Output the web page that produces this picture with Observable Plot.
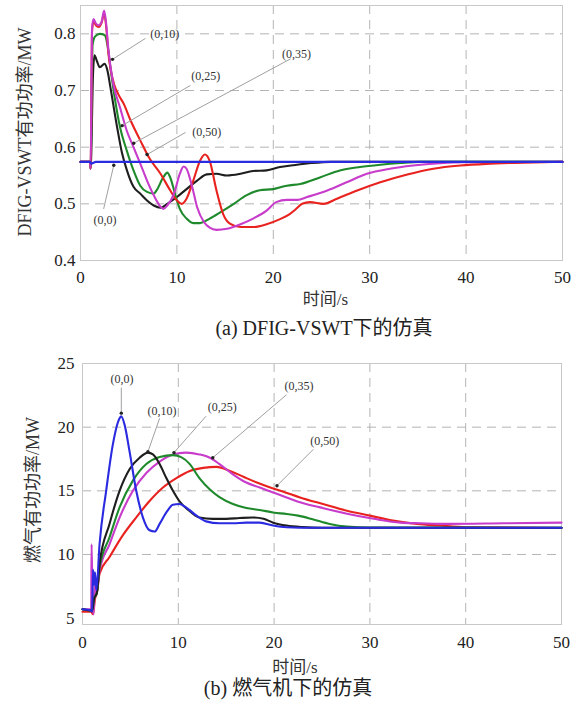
<!DOCTYPE html>
<html><head><meta charset="utf-8">
<script src="https://cdn.jsdelivr.net/npm/d3@7"></script>
<script src="https://cdn.jsdelivr.net/npm/@observablehq/plot@0.6"></script>
<style>
body{margin:0;background:#fff;}
#wrap{position:relative;width:578px;height:711px;overflow:hidden;background:#fff;font-family:"Liberation Serif","Times New Roman",Tinos,"DejaVu Serif","Noto Sans CJK SC",serif;}
.pane{position:absolute;left:0;}
.cap{position:absolute;font-size:20px;line-height:22px;white-space:nowrap;transform:translateX(-50%);color:#222;}
</style></head><body><div id="wrap">
<div class="pane" id="p1" style="top:0px"></div>
<div class="cap" style="left:324px;top:317px">(a) DFIG-VSWT下的仿真</div>
<div class="pane" id="p2" style="top:340px"></div>
<div class="cap" style="left:288px;top:677px">(b) 燃气机下的仿真</div>
</div>
<script>
// ---------- shared ----------
const xTicks = [0, 10, 20, 30, 40, 50];
const seriesNames = ["(0,0)", "(0,10)", "(0,25)", "(0,35)", "(0,50)"];
const seriesColors = ["#2a2ae0", "#1e1e1e", "#1f8a2c", "#c83ccb", "#e8231f"];

// ---------- panel (a): DFIG-VSWT active power, MW ----------
const yTicksA = [0.4, 0.5, 0.6, 0.7, 0.8];
const dfig_0_0 = [[0,0.574],[1.0,0.574],[1.1,0.571],[1.6,0.574],[3,0.574],[50,0.574]];
const dfig_0_10 = [[0,0.574],[1.0,0.574],[1.05,0.562],[1.3,0.73],[1.45,0.762],[1.7,0.752],[2.0,0.741],[2.5,0.747],[2.8,0.735],[3.1,0.706],[3.8,0.635],[4.3,0.59],[4.8,0.56],[5.5,0.53],[6.2,0.518],[6.9,0.506],[7.6,0.497],[8.3,0.493],[9.0,0.5],[10,0.512],[11,0.526],[12.1,0.541],[13.1,0.552],[14.1,0.553],[15.2,0.55],[16.6,0.553],[17.9,0.558],[19.3,0.559],[20.7,0.565],[22,0.568],[24,0.572],[26,0.574],[50,0.574]];
const dfig_0_25 = [[0,0.574],[1.0,0.574],[1.05,0.562],[1.25,0.78],[1.5,0.795],[2.0,0.8],[2.5,0.798],[2.8,0.78],[3.1,0.741],[3.6,0.682],[4.1,0.635],[4.8,0.594],[5.5,0.559],[6.2,0.532],[6.9,0.521],[7.6,0.518],[7.9,0.524],[8.6,0.547],[9.0,0.555],[9.3,0.547],[9.8,0.518],[10.3,0.491],[11,0.474],[11.7,0.466],[12.4,0.466],[13.4,0.474],[14.5,0.485],[15.9,0.5],[17.2,0.515],[18.6,0.524],[20,0.526],[21.4,0.532],[22.8,0.535],[24.9,0.547],[26.9,0.559],[29,0.565],[31.1,0.569],[33.2,0.572],[35.2,0.574],[50,0.574]];
const dfig_0_35 = [[0,0.574],[1.0,0.574],[1.05,0.562],[1.2,0.81],[1.35,0.826],[1.6,0.818],[1.9,0.815],[2.2,0.822],[2.45,0.841],[2.65,0.82],[2.9,0.771],[3.4,0.712],[4.1,0.67],[4.8,0.629],[5.5,0.6],[6.2,0.571],[6.9,0.541],[7.6,0.515],[8.3,0.495],[8.6,0.491],[9.0,0.497],[9.7,0.518],[10.3,0.553],[10.7,0.566],[11.0,0.562],[11.6,0.529],[12.1,0.494],[12.8,0.468],[13.4,0.458],[14.1,0.454],[15.2,0.456],[16.6,0.464],[17.9,0.474],[19.3,0.488],[20.3,0.503],[21.4,0.507],[22.5,0.507],[23.5,0.512],[25.6,0.5235],[27.6,0.538],[29.7,0.553],[32.1,0.562],[34.5,0.5676],[37.3,0.5717],[39.7,0.5735],[50,0.574]];
const dfig_0_50 = [[0,0.574],[1.0,0.574],[1.05,0.562],[1.2,0.805],[1.35,0.822],[1.6,0.815],[1.9,0.812],[2.2,0.82],[2.45,0.836],[2.65,0.815],[2.9,0.765],[3.1,0.74],[3.5,0.71],[3.9,0.694],[4.5,0.676],[5.2,0.647],[6.2,0.612],[7.2,0.579],[8.3,0.553],[9.3,0.524],[10,0.506],[10.5,0.5],[11,0.509],[11.7,0.541],[12.4,0.576],[12.9,0.587],[13.4,0.576],[14.1,0.524],[14.8,0.482],[15.5,0.465],[16.6,0.459],[17.9,0.459],[19.3,0.464],[20.7,0.473],[21.7,0.482],[22.3,0.49],[23,0.5],[23.8,0.503],[25.2,0.5],[26.6,0.509],[28.7,0.5235],[31.1,0.538],[33.9,0.5518],[36.6,0.562],[39.4,0.5676],[42.1,0.5706],[45,0.5723],[50,0.574]];
// annotation: label text pos, leader start, leader end
const annA_tx = [2.55, 8.75, 13.0, 22.4, 13.1];
const annA_ty = [0.471, 0.80, 0.726, 0.765, 0.626];
const annA_x1 = [2.4, 6.74, 11.4, 21.8, 10.9];
const annA_y1 = [0.491, 0.792, 0.709, 0.756, 0.626];
const annA_x2 = [3.45, 3.32, 4.32, 5.52, 6.9];
const annA_y2 = [0.568, 0.755, 0.638, 0.607, 0.587];

// ---------- panel (b): gas turbine active power, MW ----------
const yTicksB = [5, 10, 15, 20, 25];
const gas_0_0 = [[0,5.7],[0.9,5.6],[1.0,5.5],[1.1,8.8],[1.2,7.6],[1.3,8.6],[1.45,7.2],[1.78,10.8],[2.47,15],[3.17,18.65],[3.87,20.7],[4.04,20.86],[4.39,20.2],[4.91,18.1],[5.61,15],[6.31,12.9],[7.0,11.9],[7.53,11.8],[8.05,12.4],[8.75,13.3],[9.44,13.9],[10.1,13.96],[10.8,13.7],[11.9,13.05],[12.9,12.6],[14.3,12.45],[15.7,12.45],[17.1,12.5],[18.5,12.5],[19.9,12.27],[21.3,12.14],[24,12.1],[50,12.1]];
const gas_0_10 = [[0,5.7],[1.0,5.6],[1.2,6.5],[1.5,7.0],[1.78,9.27],[2.82,12.4],[3.87,15],[4.91,16.7],[5.96,17.6],[6.83,18.0],[7.35,17.86],[8.05,17.1],[8.75,16.0],[9.44,15],[10.1,14.2],[11.2,13.4],[12.2,12.9],[13.6,12.8],[15,12.8],[16.4,12.86],[17.8,12.9],[18.9,12.8],[19.9,12.5],[21.3,12.27],[23,12.15],[25,12.1],[50,12.1]];
const gas_0_25 = [[0,5.7],[1.0,5.6],[1.2,6.5],[1.5,7.0],[1.78,9.0],[2.82,11.35],[3.87,13.7],[5.26,15.8],[6.66,17.1],[8.05,17.65],[9.44,17.8],[10.3,17.65],[11.2,17.1],[12.2,16.0],[13.3,15.1],[14.3,14.5],[15.7,13.96],[17.1,13.65],[18.5,13.5],[19.9,13.3],[21.3,13.18],[22.5,13.05],[24.1,12.75],[25.8,12.4],[27.6,12.19],[30,12.12],[50,12.1]];
const gas_0_35 = [[0,5.7],[0.9,5.7],[0.95,10.8],[1.05,6.2],[1.15,5.3],[1.3,7.6],[1.5,7.0],[1.78,8.75],[2.82,10.8],[3.87,12.9],[5.26,15],[6.66,16.4],[8.05,17.3],[9.44,17.86],[10.8,18.0],[12.2,17.86],[13.3,17.6],[14.3,17.1],[15.7,16.3],[17.1,15.65],[18.5,15.26],[19.9,14.87],[21.3,14.48],[22.7,14.1],[24.8,13.7],[27.6,13.2],[30.4,12.8],[33.2,12.5],[35.3,12.45],[38.1,12.4],[44,12.45],[50,12.5]];
const gas_0_50 = [[0,5.5],[0.9,5.5],[1.1,5.3],[1.3,6.5],[1.5,7.0],[1.78,8.5],[2.82,9.8],[4.2,11.5],[5.6,12.9],[7.0,14.2],[8.4,15.26],[9.8,16.0],[11.2,16.56],[12.6,16.8],[14,16.88],[15.4,16.56],[16.8,16.1],[18.2,15.65],[19.6,15.26],[20.9,14.95],[22.7,14.48],[25.1,13.96],[27.6,13.44],[30,13.05],[32.4,12.66],[34.9,12.4],[37.3,12.27],[40,12.14],[50,12.08]];
const annB_tx = [4.13, 8.3, 14.6, 22.6, 25.3];
const annB_ty = [23.75, 21.25, 21.6, 23.2, 18.9];
const annB_x1 = [4.05, 8.05, 12.9, 21.3, 24.1];
const annB_y1 = [23.1, 20.7, 20.86, 22.55, 18.26];
const annB_x2 = [4.05, 6.83, 9.55, 13.6, 20.3];
const annB_y2 = [21.1, 18.07, 18.0, 17.6, 15.4];

const FONT = "'Liberation Serif','Times New Roman',Tinos,'DejaVu Serif','Noto Sans CJK SC',serif";

function makeAnn(tx, ty, x1, y1, x2, y2) {
  return seriesNames.map((s, i) => ({label: s, tx: tx[i], ty: ty[i], x1: x1[i], y1: y1[i], x2: x2[i], y2: y2[i]}));
}

function panel(cfg) {
  const lines = cfg.order.map(i => Plot.line(cfg.series[i], {
    x: d => d[0], y: d => d[1], stroke: seriesColors[i], strokeWidth: 2.1, curve: "monotone-x"
  }));
  const ann = makeAnn(...cfg.ann);
  return Plot.plot({
    width: 578, height: cfg.height,
    marginTop: cfg.mt, marginBottom: cfg.mb, marginLeft: cfg.ml, marginRight: cfg.mr,
    style: {fontFamily: FONT, fontSize: "17px", background: "transparent", color: "#222", overflow: "visible"},
    x: {domain: [0, 50]},
    y: {domain: cfg.yDomain},
    marks: [
      Plot.gridX([10, 20, 30, 40], {stroke: "#b4b4b4", strokeOpacity: 1, strokeDasharray: "9,6"}),
      Plot.gridY(cfg.yTicks.slice(1), {stroke: "#b4b4b4", strokeOpacity: 1, strokeDasharray: "9,6"}),
      Plot.frame({stroke: "#c8c8c8"}),
      Plot.axisX(xTicks, {tickSize: 0, tickPadding: cfg.xPad, fontSize: 17, label: null, tickFormat: d => String(d)}),
      Plot.axisY(cfg.yTicks, {tickSize: 0, tickPadding: cfg.yPad, fontSize: 17, label: null, tickFormat: cfg.fmt}),
      ...lines,
      Plot.link(ann, {x1: "x1", y1: "y1", x2: "x2", y2: "y2", stroke: "#a0a0a0", strokeWidth: 1}),
      Plot.dot(ann, {x: "x2", y: "y2", r: 1.7, fill: "#222"}),
      Plot.text(ann, {x: "tx", y: "ty", text: "label", fontSize: 12, fill: "#333"}),
      Plot.text([cfg.xLabel], {frameAnchor: "bottom", textAnchor: "middle", lineAnchor: "middle", dy: cfg.xLabDy, dx: cfg.xLabDx, fontSize: 17, fill: "#333"}),
      Plot.text([cfg.yLabel], {frameAnchor: "left", textAnchor: "middle", lineAnchor: "middle", rotate: -90, dx: cfg.yLabDx, dy: cfg.yLabDy, fontSize: cfg.yLabSize, fill: "#333"})
    ]
  });
}

document.getElementById("p1").append(panel({
  height: 310, mt: 5, mb: 50, ml: 80, mr: 16,
  yDomain: [0.4, 0.85], yTicks: yTicksA, fmt: d => d.toFixed(1), xPad: 10, yPad: 5,
  series: [dfig_0_0, dfig_0_10, dfig_0_25, dfig_0_35, dfig_0_50],
  order: [1, 2, 4, 3, 0],
  ann: [annA_tx, annA_ty, annA_x1, annA_y1, annA_x2, annA_y2],
  xLabel: "时间/s", xLabDy: 39, xLabDx: 4,
  yLabel: "DFIG-VSWT有功功率/MW", yLabDx: -55, yLabDy: -1, yLabSize: 18
}));

document.getElementById("p2").append(panel({
  height: 330, mt: 23, mb: 46, ml: 82, mr: 17,
  yDomain: [4.5, 25], yTicks: yTicksB, fmt: d => String(d), xPad: 11, yPad: 8,
  series: [gas_0_0, gas_0_10, gas_0_25, gas_0_35, gas_0_50],
  order: [4, 3, 2, 1, 0],
  ann: [annB_tx, annB_ty, annB_x1, annB_y1, annB_x2, annB_y2],
  xLabel: "时间/s", xLabDy: 43, xLabDx: -27,
  yLabel: "燃气有功功率/MW", yLabDx: -49, yLabDy: -4, yLabSize: 18
}));
</script></body></html>
